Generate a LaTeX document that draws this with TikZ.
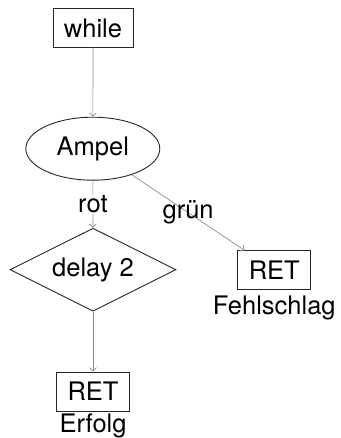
\documentclass[tikz,border=0pt]{standalone}
\usepackage{fontspec}
\setmainfont{TeX Gyre Heros}
\usetikzlibrary{arrows.meta,shapes.geometric,positioning}

\begin{document}
\begin{tikzpicture}[
  x=1pt, y=1pt,
  font=\fontsize{25.5}{30}\selectfont,
  >={Straight Barb[length=3.5pt,width=7pt]},
  box/.style={draw=black!85, line width=0.9pt, rectangle,
              inner xsep=11pt, inner ysep=0pt, minimum height=39pt},
  test/.style={draw=black!85, line width=0.9pt, ellipse, inner sep=0pt,
               minimum width=134pt, minimum height=63pt},
  wait/.style={draw=black!85, line width=0.9pt, diamond, aspect=2,
               inner sep=0pt, minimum width=166pt, minimum height=83pt},
  caption/.style={inner sep=0pt},
  flow/.style={->, draw=black!45, line width=0.7pt},
  cond/.style={inner sep=1pt}]

\useasboundingbox (0,0) rectangle (340,-438);

%% Ablauf von oben nach unten
\node[box]  (loop)  at (93,-28)     {while};
\node[test] (ampel) at (92.8,-148.7) {Ampel};
\node[wait] (delay) at (93,-269.7)  {delay 2};
\node[box]  (ok)    at (93,-391.5)  {RET};
\node[box]  (fail)  at (274.3,-270.3) {RET};

\node[caption, below=2.5pt of ok] (okcap)   {Erfolg};
\node[caption, below=5pt of fail] (failcap) {Fehlschlag};

%% Kanten
\draw[flow] (loop) -- (ampel);
\draw[flow] (ampel) -- node[cond, fill=white] (rot) {rot} (delay);
\draw[flow] (ampel) -- node[cond] (gruen) {grün} (fail);
\draw[flow] (delay) -- (ok);
\end{tikzpicture}
\end{document}
